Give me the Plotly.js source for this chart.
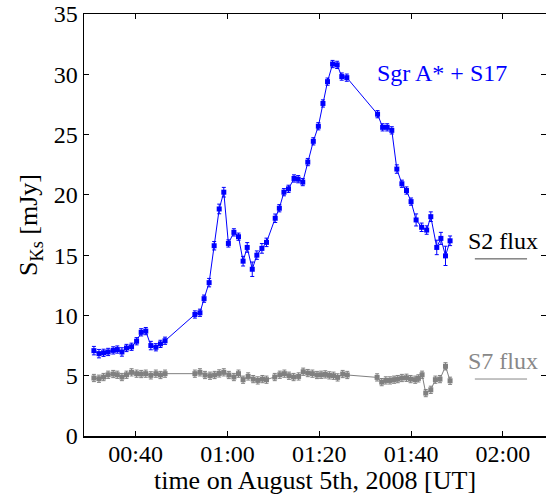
<!DOCTYPE html>
<html>
<head>
<meta charset="utf-8">
<script src="https://cdn.plot.ly/plotly-3.0.1.min.js"></script>
<style>html,body{margin:0;padding:0;background:#fff;}#chart{width:546px;height:495px;}</style>
</head>
<body>
<div id="chart"></div>
<script>
// times in minutes after 00:00 UT, August 5th 2008
var sgrTime = [30.9, 32.0, 33.0, 34.0, 35.1, 36.0, 37.0, 38.0, 39.1, 40.2, 41.2, 42.2, 43.3, 44.4, 45.4, 46.4,
  52.9, 54.0, 54.9, 56.0, 57.1, 58.2, 59.2, 60.2, 61.4, 62.4, 63.4, 64.3, 65.4, 66.4, 67.5, 68.5,
  70.4, 71.3, 72.3, 73.3, 74.5, 75.4, 76.4, 77.5, 78.7, 79.8, 80.8, 81.8, 82.9, 83.9, 84.9, 86.0,
  92.7, 93.8, 94.8, 95.8, 96.9, 98.0, 99.0, 100.0, 101.1, 102.3, 103.4, 104.3, 105.6, 106.5, 107.5, 108.5];
var sgrFlux = [7.08, 6.83, 6.9, 6.97, 7.1, 7.17, 6.97, 7.3, 7.4, 7.86, 8.6, 8.7, 7.5, 7.36, 7.64, 7.9,
  10.08, 10.22, 11.39, 12.72, 15.78, 18.83, 20.22, 15.97, 16.89, 16.53, 14.5, 15.64, 13.83, 15.0, 15.56, 16.06,
  18.06, 18.89, 20.22, 20.5, 21.36, 21.3, 21.06, 22.72, 24.44, 25.69, 27.58, 29.39, 30.85, 30.78, 29.81, 29.72,
  26.69, 25.6, 25.6, 25.35, 22.14, 20.92, 20.36, 19.44, 17.92, 17.31, 17.08, 18.19, 15.64, 16.39, 14.94, 16.19];
var sgrErr = [0.35, 0.35, 0.3, 0.3, 0.3, 0.3, 0.35, 0.3, 0.3, 0.3, 0.3, 0.3, 0.35, 0.3, 0.3, 0.3,
  0.3, 0.3, 0.3, 0.35, 0.35, 0.4, 0.4, 0.3, 0.3, 0.3, 0.4, 0.4, 0.6, 0.35, 0.4, 0.35,
  0.35, 0.3, 0.3, 0.3, 0.3, 0.3, 0.3, 0.3, 0.3, 0.3, 0.3, 0.3, 0.3, 0.3, 0.3, 0.3,
  0.3, 0.3, 0.3, 0.3, 0.35, 0.3, 0.3, 0.3, 0.5, 0.35, 0.35, 0.4, 0.6, 0.5, 0.8, 0.4];

var s7Time = [30.9, 32.0, 33.0, 34.0, 35.1, 36.0, 37.0, 38.0, 39.1, 40.2, 41.2, 42.2, 43.3, 44.4, 45.4, 46.4,
  52.9, 54.0, 55.1, 56.2, 57.2, 58.2, 59.2, 60.3, 61.4, 62.4, 63.4, 64.5, 65.6, 66.6, 67.6, 68.5,
  70.3, 71.4, 72.4, 73.4, 74.4, 75.5, 76.5, 77.5, 78.5, 79.5, 80.4, 81.3, 82.2, 83.1, 84.0, 85.1, 86.1,
  92.6, 93.6, 94.5, 95.4, 96.3, 97.1, 98.0, 99.0, 99.9, 100.9, 101.6, 102.4, 103.2, 104.3, 105.3, 106.3, 107.5, 108.5];
var s7Flux = [4.81, 4.75, 4.89, 5.08, 5.14, 5.08, 4.89, 5.08, 5.28, 5.17, 5.14, 5.17, 5.03, 5.17, 5.06, 5.17,
  5.17, 5.28, 5.06, 5.0, 5.06, 5.19, 5.28, 5.06, 4.89, 5.17, 4.67, 4.94, 4.72, 4.61, 4.72, 4.67,
  4.89, 5.08, 5.17, 5.0, 4.89, 4.94, 5.33, 5.22, 5.17, 5.06, 5.08, 5.11, 5.03, 5.0, 4.86, 5.14, 5.06,
  4.86, 4.47, 4.61, 4.61, 4.67, 4.72, 4.81, 4.83, 4.72, 4.67, 4.78, 5.08, 3.56, 3.83, 4.67, 4.72, 5.78, 4.58];
var s7Err = 0.3;

var tickVals = [40, 60, 80, 100, 120];
var tickText = ['00:40', '01:00', '01:20', '01:40', '02:00'];

var serif = '"Liberation Serif", "DejaVu Serif", "Times New Roman", serif';

var traces = [
  {
    x: s7Time, y: s7Flux, type: 'scatter', mode: 'lines+markers',
    line: {color: '#808080', width: 1},
    marker: {symbol: 'square', size: 5, color: '#808080'},
    error_y: {type: 'constant', value: s7Err, color: '#808080', thickness: 1, width: 2},
    hoverinfo: 'skip', showlegend: false
  },
  {
    x: sgrTime, y: sgrFlux, type: 'scatter', mode: 'lines+markers',
    line: {color: '#0000ff', width: 1},
    marker: {symbol: 'square', size: 5, color: '#0000ff'},
    error_y: {type: 'data', array: sgrErr, color: '#0000ff', thickness: 1, width: 2},
    hoverinfo: 'skip', showlegend: false
  }
];

var layout = {
  width: 546, height: 495,
  margin: {l: 84, r: 0, t: 14, b: 59},
  paper_bgcolor: '#fff', plot_bgcolor: '#fff',
  font: {family: serif, size: 24, color: '#000'},
  xaxis: {
    range: [28.74, 129.4], tickmode: 'array', tickvals: tickVals, ticktext: tickText,
    ticks: 'inside', ticklen: 5, tickwidth: 1, tickcolor: '#000',
    showline: true, linecolor: '#000', linewidth: 1.5, mirror: 'ticks',
    showgrid: false, zeroline: false, ticklabelstandoff: -4,
    tickfont: {family: serif, size: 24},
    title: {text: 'time on August 5th, 2008 [UT]', font: {family: serif, size: 26}, standoff: 6}
  },
  yaxis: {
    range: [0, 35], tickmode: 'array', tickvals: [0, 5, 10, 15, 20, 25, 30, 35],
    ticks: 'inside', ticklen: 5, tickwidth: 1, tickcolor: '#000',
    showline: true, linecolor: '#000', linewidth: 1.5, mirror: 'ticks',
    showgrid: false, zeroline: false,
    tickfont: {family: serif, size: 24},
    title: {text: 'S<sub>Ks</sub> [mJy]', font: {family: serif, size: 26}, standoff: 8}
  },
  annotations: [
    {xref: 'paper', yref: 'paper', x: 0.774, y: 0.86, text: 'Sgr A* + S17', showarrow: false,
     font: {family: serif, size: 24, color: '#0000ff'}, xanchor: 'center', yanchor: 'middle'},
    {xref: 'paper', yref: 'paper', x: 0.906, y: 0.462, text: 'S2 flux', showarrow: false,
     font: {family: serif, size: 24, color: '#000'}, xanchor: 'center', yanchor: 'middle'},
    {xref: 'paper', yref: 'paper', x: 0.906, y: 0.177, text: 'S7 flux', showarrow: false,
     font: {family: serif, size: 24, color: '#888888'}, xanchor: 'center', yanchor: 'middle'}
  ],
  shapes: [
    {type: 'line', xref: 'paper', yref: 'paper', x0: 0.846, x1: 0.959, y0: 0.4197, y1: 0.4197,
     line: {color: '#444444', width: 1}},
    {type: 'line', xref: 'paper', yref: 'paper', x0: 0.846, x1: 0.959, y0: 0.135, y1: 0.135,
     line: {color: '#888888', width: 1}}
  ]
};

Plotly.newPlot('chart', traces, layout, {staticPlot: true, displayModeBar: false});
</script>
</body>
</html>
